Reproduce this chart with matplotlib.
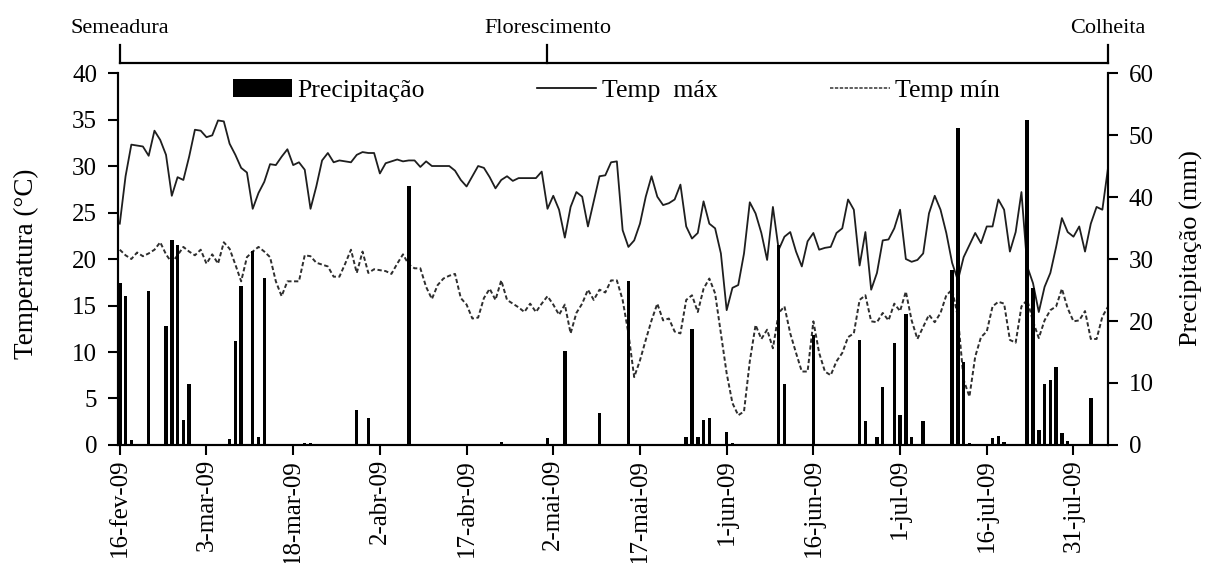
import matplotlib
matplotlib.use('Agg')
import matplotlib.pyplot as plt
from matplotlib.lines import Line2D
from matplotlib.patches import Patch
from matplotlib.transforms import blended_transform_factory

plt.rcParams['font.family'] = ['Liberation Serif', 'DejaVu Serif']

# daily temperatures from 16-fev-09 (day 0) to 6-ago-09 (°C)
temp_max = [
    23.8, 28.9, 32.3, 32.2, 32.1, 31.1, 33.8, 32.8, 31.2, 26.8,
    28.8, 28.5, 31.0, 33.9, 33.8, 33.1, 33.3, 34.9, 34.8, 32.4,
    31.2, 29.8, 29.3, 25.4, 27.1, 28.3, 30.2, 30.1, 31.0, 31.8,
    30.1, 30.4, 29.6, 25.4, 27.8, 30.6, 31.4, 30.4, 30.6, 30.5,
    30.4, 31.2, 31.5, 31.4, 31.4, 29.2, 30.3, 30.5, 30.7, 30.5,
    30.6, 30.6, 29.9, 30.5, 30.0, 30.0, 30.0, 30.0, 29.5, 28.5,
    27.8, 28.9, 30.0, 29.8, 28.8, 27.6, 28.5, 28.9, 28.4, 28.7,
    28.7, 28.7, 28.7, 29.4, 25.4, 26.8, 25.3, 22.3, 25.6, 27.2,
    26.7, 23.5, 26.2, 28.9, 29.0, 30.4, 30.5, 23.1, 21.3, 22.0,
    23.8, 26.7, 28.9, 26.7, 25.8, 26.0, 26.4, 28.0, 23.5, 22.2,
    22.8, 26.2, 23.8, 23.3, 20.6, 14.5, 16.9, 17.2, 20.6, 26.1,
    24.9, 22.8, 19.9, 25.6, 21.0, 22.4, 22.9, 20.8, 19.2, 21.9,
    22.8, 21.0, 21.2, 21.3, 22.8, 23.3, 26.4, 25.3, 19.3, 22.9,
    16.7, 18.5, 22.0, 22.1, 23.3, 25.3, 20.0, 19.7, 19.9, 20.6,
    24.9, 26.8, 25.3, 22.8, 19.6, 17.7, 20.2, 21.5, 22.8, 21.7,
    23.5, 23.5, 26.4, 25.3, 20.8, 22.9, 27.2, 19.2, 17.4, 14.3,
    17.0, 18.5, 21.3, 24.4, 22.9, 22.4, 23.5, 20.8, 23.8, 25.6,
    25.3, 29.9,
]
temp_min = [
    21.0, 20.4, 20.0, 20.7, 20.3, 20.6, 21.0, 21.8, 20.5, 19.6,
    20.4, 21.3, 20.8, 20.4, 21.0, 19.5, 20.5, 19.5, 21.8, 21.1,
    19.4, 17.6, 20.2, 20.8, 21.3, 20.8, 20.2, 17.6, 16.0, 17.6,
    17.6, 17.6, 20.4, 20.3, 19.6, 19.4, 19.2, 18.1, 18.1, 19.5,
    21.0, 18.5, 20.8, 18.5, 18.9, 18.8, 18.7, 18.4, 19.5, 20.5,
    19.4, 19.0, 19.0, 17.0, 15.7, 17.2, 17.9, 18.2, 18.4, 15.8,
    15.1, 13.6, 13.7, 15.8, 16.8, 15.6, 17.7, 15.6, 15.2, 14.8,
    14.3, 15.2, 14.3, 15.2, 16.0, 15.1, 14.0, 15.1, 12.0, 14.2,
    15.2, 16.7, 15.6, 16.7, 16.4, 17.7, 17.7, 15.6, 12.0, 7.3,
    9.1, 11.3, 13.4, 15.2, 13.4, 13.6, 12.2, 12.0, 15.6, 16.1,
    14.3, 16.8, 17.9, 16.3, 12.0, 7.7, 4.5, 3.2, 3.6, 9.0,
    12.9, 11.4, 12.4, 10.4, 14.2, 14.9, 12.0, 9.9, 7.9, 7.9,
    13.3, 9.9, 7.9, 7.5, 9.0, 9.9, 11.6, 12.0, 15.6, 16.1,
    13.3, 13.2, 14.2, 13.4, 15.2, 14.4, 16.5, 13.4, 11.4, 12.7,
    14.0, 13.2, 14.2, 16.1, 16.7, 13.8, 7.0, 5.2, 9.5, 11.6,
    12.2, 14.9, 15.4, 15.2, 11.3, 11.0, 14.9, 15.6, 13.3, 11.5,
    13.4, 14.5, 14.9, 16.8, 14.7, 13.3, 13.4, 14.4, 11.4, 11.4,
    13.8, 14.9,
]

# rainy days (days after 16-fev-09) and amount (mm)
rain_day = [0, 1, 2, 5, 8, 9, 10, 11, 12, 19, 20, 21, 23, 24, 25, 32, 33,
            41, 43, 50, 66, 74, 77, 83, 88, 98, 99, 100, 101, 102, 105, 106,
            114, 115, 120, 128, 129, 131, 132, 134, 135, 136, 137, 139,
            144, 145, 146, 147, 151, 152, 153, 157, 158, 159, 160, 161,
            162, 163, 164, 168]
rain_mm = [26.2, 24.0, 0.8, 24.9, 19.2, 33.1, 32.2, 4.0, 9.9, 1.0, 16.8,
           25.6, 31.3, 1.3, 27.0, 0.3, 0.3, 5.6, 4.3, 41.7, 0.5, 1.2, 15.2,
           5.1, 26.5, 1.3, 18.7, 1.3, 4.0, 4.4, 2.1, 0.3, 32.3, 9.8, 17.7,
           17.0, 3.9, 1.3, 9.4, 16.5, 4.8, 21.1, 1.3, 3.8, 28.2, 51.2, 13.4,
           0.3, 1.2, 1.5, 0.5, 52.5, 25.3, 2.4, 9.9, 10.5, 12.6, 1.9, 0.7,
           7.5]

tick_day = [0, 15, 30, 45, 60, 75, 90, 105, 120, 135, 150, 165]
tick_label = ['16-fev-09', '3-mar-09', '18-mar-09', '2-abr-09', '17-abr-09',
              '2-mai-09', '17-mai-09', '1-jun-09', '16-jun-09', '1-jul-09',
              '16-jul-09', '31-jul-09']

stage_day = [0, 74, 171]
stage_label = ['Semeadura', 'Florescimento', 'Colheita']

days = list(range(len(temp_max)))

fig = plt.figure(figsize=(12.07, 5.63), dpi=100)
ax = fig.add_axes([0.0978, 0.2096, 0.8203, 0.6607])
ax2 = ax.twinx()

ax.plot(days, temp_max, color='#1e1e1e', lw=1.3, solid_joinstyle='round')
ax.plot(days, temp_min, color='#2e2e2e', lw=1.4, ls=(0, (2.2, 1.3)))
ax2.bar(rain_day, rain_mm, width=0.6, color='black')

ax.set_xlim(-0.3, 171.0)
ax.set_ylim(0, 40)
ax2.set_ylim(0, 60)
ax.set_yticks(range(0, 41, 5))
ax2.set_yticks(range(0, 61, 10))
ax.set_xticks(tick_day)
ax.set_xticklabels(tick_label, rotation=90, fontsize=22.5)

for a in (ax, ax2):
    a.spines['top'].set_visible(False)
    for s in a.spines.values():
        s.set_linewidth(1.5)
    a.tick_params(direction='out', length=7, width=1.5, labelsize=18)
ax.tick_params(axis='x', pad=3)
ax.tick_params(axis='y', pad=8)
ax2.tick_params(axis='y', pad=8)

ax.set_ylabel('Temperatura (°C)', fontsize=19.5)
ax.yaxis.set_label_coords(-0.08, 0.487)
ax2.set_ylabel('Precipitação (mm)', fontsize=19)
ax2.yaxis.set_label_coords(1.072, 0.53)

# crop stage bracket above the plot
tr = blended_transform_factory(ax.transData, ax.transAxes)
ax.plot([stage_day[0], stage_day[-1]], [1.027, 1.027], color='black', lw=1.6,
        transform=tr, clip_on=False)
for d, name in zip(stage_day, stage_label):
    ax.plot([d, d], [1.027, 1.075], color='black', lw=1.6, transform=tr,
            clip_on=False)
    ax.text(d, 1.121, name, transform=tr, ha='center', va='center',
            fontsize=16)

handles = [Patch(facecolor='black'),
           Line2D([], [], color='black', lw=1.2),
           Line2D([], [], color='#333333', lw=1.1, ls=(0, (2.2, 1.0)))]
labels = ['Precipitação', 'Temp  máx', 'Temp mín']
ax2.legend(handles, labels, ncol=3, loc='center', bbox_to_anchor=(0.503, 0.954),
           frameon=False, fontsize=18.5, handlelength=2.3, handletextpad=0.2,
           columnspacing=4.4, borderaxespad=0)

fig.savefig('out.png', dpi=100)
